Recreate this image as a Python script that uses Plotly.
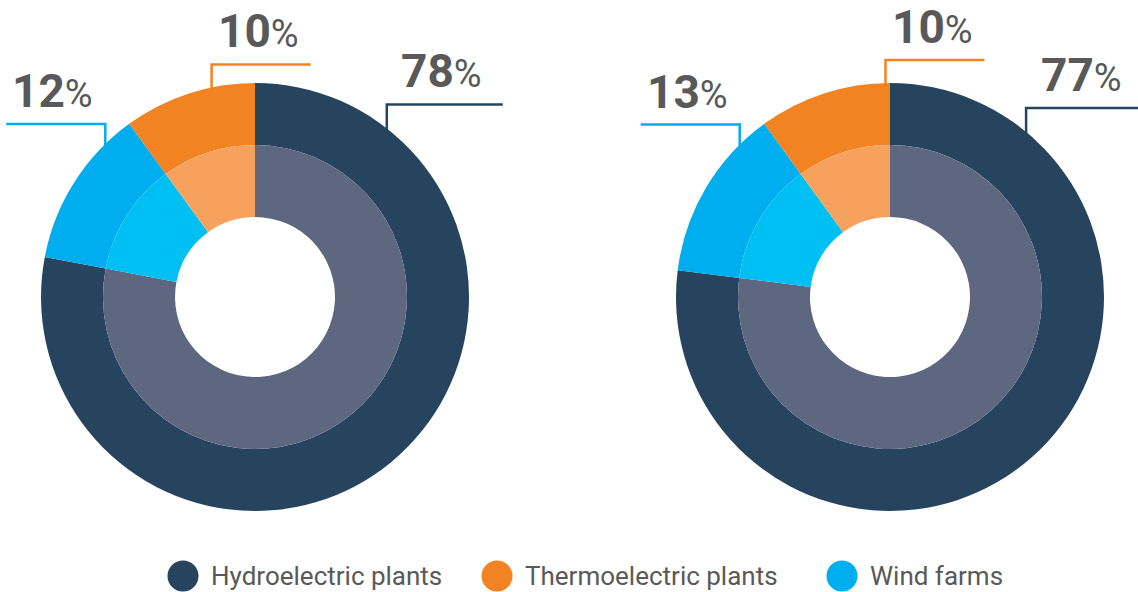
import math
import plotly.graph_objects as go

# Generation mix shares (%) for the two periods, clockwise from 12 o'clock
sources = ["Hydroelectric plants", "Wind farms", "Thermoelectric plants"]
share_left = [78, 12, 10]
share_right = [77, 13, 10]

legend_order = ["Hydroelectric plants", "Thermoelectric plants", "Wind farms"]

outer_colors = {"Hydroelectric plants": "#27445f",
                "Thermoelectric plants": "#f28322",
                "Wind farms": "#00aeef"}
inner_colors = {"Hydroelectric plants": "#5d6780",
                "Thermoelectric plants": "#f6a25e",
                "Wind farms": "#00bff2"}

W, H = 1138, 592
TEXT_GREY = "#595959"

# Donut geometry in pixels
R_OUT, R_MID, R_HOLE = 214, 152, 80
centers = [(255, 297), (890, 297)]

# Where each leader line leaves the ring (degrees clockwise from 12 o'clock)
leader_angle = [
    {"Hydroelectric plants": 38, "Wind farms": -44.4, "Thermoelectric plants": -11.7},
    {"Hydroelectric plants": 39.5, "Wind farms": -44.6, "Thermoelectric plants": -1.2},
]
leader_rise = {"Hydroelectric plants": 24, "Wind farms": 20, "Thermoelectric plants": 23}
leader_run = {"Hydroelectric plants": 116, "Wind farms": -99, "Thermoelectric plants": 99}

legend_x = [183, 497, 842]
legend_y = 576


def domain(cx, cy, r):
    return dict(x=[(cx - r) / W, (cx + r) / W],
                y=[1 - (cy + r) / H, 1 - (cy - r) / H])


fig = go.Figure()
shapes = []
annotations = []

for (cx, cy), shares, angles in zip(centers, [share_left, share_right], leader_angle):
    fig.add_trace(go.Pie(
        labels=sources, values=shares, sort=False, direction="clockwise",
        rotation=0, hole=R_MID / R_OUT, domain=domain(cx, cy, R_OUT),
        marker=dict(colors=[outer_colors[s] for s in sources], line=dict(width=0)),
        textinfo="none", hoverinfo="label+percent", showlegend=False,
    ))
    fig.add_trace(go.Pie(
        labels=sources, values=shares, sort=False, direction="clockwise",
        rotation=0, hole=R_HOLE / R_MID, domain=domain(cx, cy, R_MID),
        marker=dict(colors=[inner_colors[s] for s in sources], line=dict(width=0)),
        textinfo="none", hoverinfo="label+percent", showlegend=False,
    ))

    for src, val in zip(sources, shares):
        a = math.radians(angles[src])
        x0 = cx + R_OUT * math.sin(a)
        y0 = cy - R_OUT * math.cos(a)
        y1 = y0 - leader_rise[src]
        x2 = x0 + leader_run[src]
        path = f"M {x0:.1f},{y0 + 2:.1f} L {x0:.1f},{y1:.1f} L {x2:.1f},{y1:.1f}"
        shapes.append(dict(type="path", xref="x", yref="y", path=path,
                           line=dict(color=outer_colors[src], width=2.5)))
        annotations.append(dict(
            x=(x0 + x2) / 2 - 3, y=y1 - 4, xref="x", yref="y",
            xanchor="center", yanchor="bottom", showarrow=False,
            text=f"<b>{val}</b><span style='font-size:38px'>%</span>",
            font=dict(family="Roboto, sans-serif", size=46, color=TEXT_GREY),
        ))

# Legend: coloured dots with labels
fig.add_trace(go.Scatter(
    x=legend_x, y=[legend_y] * 3, mode="markers",
    marker=dict(size=31, color=[outer_colors[s] for s in legend_order]),
    hoverinfo="skip", showlegend=False, xaxis="x", yaxis="y",
))
for lx, name in zip(legend_x, legend_order):
    annotations.append(dict(
        x=lx + 26, y=legend_y, xref="x", yref="y", xanchor="left", yanchor="middle",
        showarrow=False, text=name,
        font=dict(family="Roboto, sans-serif", size=26, color=TEXT_GREY),
    ))

fig.update_layout(
    width=W, height=H, margin=dict(l=0, r=0, t=0, b=0),
    paper_bgcolor="white", plot_bgcolor="rgba(0,0,0,0)",
    xaxis=dict(range=[0, W], visible=False, fixedrange=True),
    yaxis=dict(range=[H, 0], visible=False, fixedrange=True),
    shapes=shapes, annotations=annotations, showlegend=False,
)

fig.write_html("out.html")
